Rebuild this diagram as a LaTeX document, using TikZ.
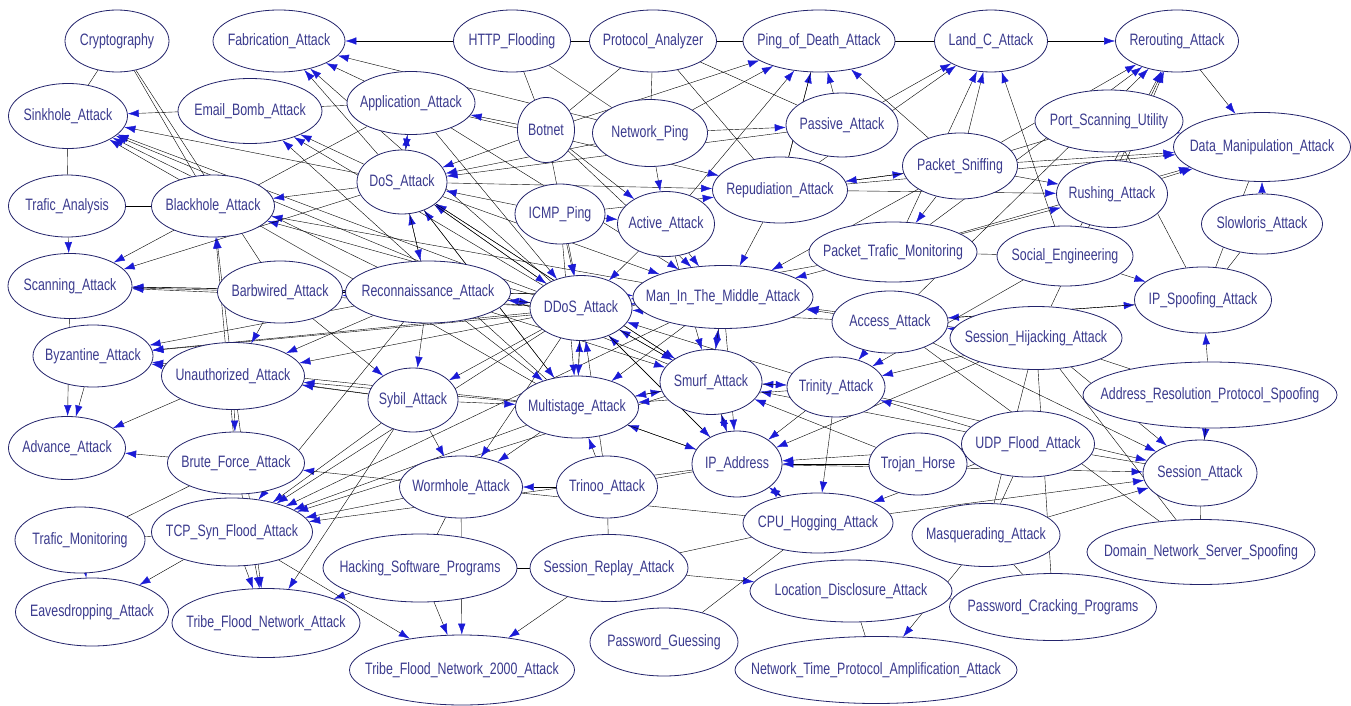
\documentclass[tikz,border=0pt]{standalone}
\usepackage{fontspec}
\usetikzlibrary{shapes.geometric,arrows.meta,backgrounds}
\newfontfamily\lblfont{Liberation Sans}[FakeStretch=0.75]
\definecolor{nodeline}{HTML}{23236B}
\definecolor{lbltext}{HTML}{3B3B8E}
\definecolor{edgeline}{HTML}{12126E}
\definecolor{tipblue}{HTML}{1A1AD6}
\newcommand\lbl[1]{\makebox[0pt]{#1}}

\begin{document}
\begin{tikzpicture}[x=1pt, y=-1pt,
      att/.style={ellipse, draw=nodeline, line width=0.8pt, fill=white,
                  inner sep=0pt, text=lbltext, font=\lblfont\fontsize{16.5}{17}\selectfont},
      >={Latex[length=11pt, width=7.5pt, color=tipblue]}]
    \useasboundingbox (0,0) rectangle (1351,706);
    \node[att, minimum width=104, minimum height=62] (crypt)   at (117,41)  {\lbl{Cryptography}};
    \node[att, minimum width=132, minimum height=62] (fab)     at (279,41)  {\lbl{Fabrication\_Attack}};
    \node[att, minimum width=117, minimum height=62] (http)    at (512,41)  {\lbl{HTTP\_Flooding}};
    \node[att, minimum width=127, minimum height=62] (proto)   at (653,41)  {\lbl{Protocol\_Analyzer}};
    \node[att, minimum width=152, minimum height=62] (pod)     at (819,41)  {\lbl{Ping\_of\_Death\_Attack}};
    \node[att, minimum width=113, minimum height=62] (land)    at (991,41)  {\lbl{Land\_C\_Attack}};
    \node[att, minimum width=123, minimum height=62] (rerout)  at (1177,41) {\lbl{Rerouting\_Attack}};
    \node[att, minimum width=119, minimum height=65] (sink)    at (68,116)  {\lbl{Sinkhole\_Attack}};
    \node[att, minimum width=144, minimum height=65] (email)   at (250,111) {\lbl{Email\_Bomb\_Attack}};
    \node[att, minimum width=128, minimum height=63] (app)     at (411,103) {\lbl{Application\_Attack}};
    \node[att, minimum width=57,  minimum height=65] (botnet)  at (546,130) {\lbl{Botnet}};
    \node[att, minimum width=115, minimum height=67] (nping)   at (650,133) {\lbl{Network\_Ping}};
    \node[att, minimum width=112, minimum height=64] (passive) at (842,125) {\lbl{Passive\_Attack}};
    \node[att, minimum width=148, minimum height=62] (portscan) at (1109,121) {\lbl{Port\_Scanning\_Utility}};
    \node[att, minimum width=177, minimum height=69] (dataman) at (1262,147) {\lbl{Data\_Manipulation\_Attack}};
    \node[att, minimum width=117, minimum height=62] (tana)    at (67,206)  {\lbl{Trafic\_Analysis}};
    \node[att, minimum width=123, minimum height=62] (black)   at (213,206) {\lbl{Blackhole\_Attack}};
    \node[att, minimum width=90,  minimum height=64] (dos)     at (402,182) {\lbl{DoS\_Attack}};
    \node[att, minimum width=90,  minimum height=60] (icmp)    at (560,214) {\lbl{ICMP\_Ping}};
    \node[att, minimum width=97,  minimum height=65] (active)  at (666,224) {\lbl{Active\_Attack}};
    \node[att, minimum width=135, minimum height=66] (repud)   at (780,190) {\lbl{Repudiation\_Attack}};
    \node[att, minimum width=115, minimum height=66] (sniff)   at (960,166) {\lbl{Packet\_Sniffing}};
    \node[att, minimum width=111, minimum height=67] (rush)    at (1112,194) {\lbl{Rushing\_Attack}};
    \node[att, minimum width=121, minimum height=60] (slow)    at (1262,224) {\lbl{Slowloris\_Attack}};
    \node[att, minimum width=168, minimum height=60] (ptm)     at (893,252) {\lbl{Packet\_Trafic\_Monitoring}};
    \node[att, minimum width=136, minimum height=60] (social)  at (1065,256) {\lbl{Social\_Engineering}};
    \node[att, minimum width=124, minimum height=65] (scan)    at (70,286)  {\lbl{Scanning\_Attack}};
    \node[att, minimum width=125, minimum height=62] (barb)    at (280,292) {\lbl{Barbwired\_Attack}};
    \node[att, minimum width=165, minimum height=62] (recon)   at (428,292) {\lbl{Reconnaissance\_Attack}};
    \node[att, minimum width=102, minimum height=65] (ddos)    at (581,308) {\lbl{DDoS\_Attack}};
    \node[att, minimum width=180, minimum height=63] (mitm)    at (723,297) {\lbl{Man\_In\_The\_Middle\_Attack}};
    \node[att, minimum width=116, minimum height=62] (access)  at (890,322) {\lbl{Access\_Attack}};
    \node[att, minimum width=137, minimum height=66] (ipspoof) at (1203,300) {\lbl{IP\_Spoofing\_Attack}};
    \node[att, minimum width=120, minimum height=62] (byz)     at (93,356)  {\lbl{Byzantine\_Attack}};
    \node[att, minimum width=143, minimum height=67] (unauth)  at (233,376) {\lbl{Unauthorized\_Attack}};
    \node[att, minimum width=90,  minimum height=64] (sybil)   at (413,400) {\lbl{Sybil\_Attack}};
    \node[att, minimum width=123, minimum height=62] (multi)   at (577,407) {\lbl{Multistage\_Attack}};
    \node[att, minimum width=102, minimum height=65] (smurf)   at (711,382) {\lbl{Smurf\_Attack}};
    \node[att, minimum width=98,  minimum height=60] (trinity) at (836,387) {\lbl{Trinity\_Attack}};
    \node[att, minimum width=172, minimum height=63] (hijack)  at (1036,338) {\lbl{Session\_Hijacking\_Attack}};
    \node[att, minimum width=254, minimum height=66] (arp)     at (1210,395) {\lbl{Address\_Resolution\_Protocol\_Spoofing}};
    \node[att, minimum width=117, minimum height=63] (adv)     at (67,448)  {\lbl{Advance\_Attack}};
    \node[att, minimum width=137, minimum height=62] (brute)   at (236,463) {\lbl{Brute\_Force\_Attack}};
    \node[att, minimum width=123, minimum height=62] (worm)    at (461,487) {\lbl{Wormhole\_Attack}};
    \node[att, minimum width=101, minimum height=62] (trinoo)  at (607,487) {\lbl{Trinoo\_Attack}};
    \node[att, minimum width=90,  minimum height=66] (ipaddr)  at (737,464) {\lbl{IP\_Address}};
    \node[att, minimum width=98,  minimum height=62] (trojan)  at (918,464) {\lbl{Trojan\_Horse}};
    \node[att, minimum width=133, minimum height=66] (udp)     at (1028,444) {\lbl{UDP\_Flood\_Attack}};
    \node[att, minimum width=114, minimum height=66] (session) at (1200,473) {\lbl{Session\_Attack}};
    \node[att, minimum width=130, minimum height=66] (tmon)    at (80,540)  {\lbl{Trafic\_Monitoring}};
    \node[att, minimum width=161, minimum height=68] (tcpsyn)  at (232,532) {\lbl{TCP\_Syn\_Flood\_Attack}};
    \node[att, minimum width=194, minimum height=68] (hack)    at (420,568) {\lbl{Hacking\_Software\_Programs}};
    \node[att, minimum width=158, minimum height=67] (replay)  at (609,568) {\lbl{Session\_Replay\_Attack}};
    \node[att, minimum width=150, minimum height=60] (cpu)     at (818,523) {\lbl{CPU\_Hogging\_Attack}};
    \node[att, minimum width=148, minimum height=63] (masq)    at (986,535) {\lbl{Masquerading\_Attack}};
    \node[att, minimum width=228, minimum height=65] (dns)     at (1201,552) {\lbl{Domain\_Network\_Server\_Spoofing}};
    \node[att, minimum width=202, minimum height=62] (locdis)  at (851,591) {\lbl{Location\_Disclosure\_Attack}};
    \node[att, minimum width=153, minimum height=68] (eaves)   at (92,612)  {\lbl{Eavesdropping\_Attack}};
    \node[att, minimum width=188, minimum height=69] (tfn)     at (266,623) {\lbl{Tribe\_Flood\_Network\_Attack}};
    \node[att, minimum width=207, minimum height=67] (pwcrack) at (1053,607) {\lbl{Password\_Cracking\_Programs}};
    \node[att, minimum width=225, minimum height=70] (tfn2k)   at (462,670) {\lbl{Tribe\_Flood\_Network\_2000\_Attack}};
    \node[att, minimum width=148, minimum height=68] (pwguess) at (664,642) {\lbl{Password\_Guessing}};
    \node[att, minimum width=282, minimum height=67] (ntp)     at (876,670) {\lbl{Network\_Time\_Protocol\_Amplification\_Attack}};

    \begin{scope}[on background layer, color=edgeline, line width=0.9pt]
    \draw[->] (http) -- (fab);     \draw[->] (app) -- (fab);      \draw[->] (dos) -- (fab);
    \draw[->] (ddos) -- (fab);     \draw[->] (nping) -- (fab);
    \draw[->] (dos) -- (email);    \draw[->] (ddos) -- (email);   \draw[->] (multi) -- (email);
    \draw[->] (app) -- (sink);     \draw[->] (dos) -- (sink);     \draw[->] (ddos) -- (sink);
    \draw[->] (multi) -- (sink);   \draw[->] (smurf) -- (sink);   \draw[->] (recon) -- (sink);
    \draw (crypt) -- (sink);       \draw (crypt) -- (black);      \draw (crypt) -- (barb);
    \draw (sink) -- (tana);        \draw (tana) -- (black);       \draw[->] (tana) -- (scan);
    \draw[->] (dos) -- (black);    \draw[->] (ddos) -- (black);   \draw[->] (mitm) -- (black);
    \draw[->] (unauth) -- (black); \draw[->] (brute) -- (black);
    \draw[->] (dos) -- (scan);     \draw[->] (recon) -- (scan);   \draw[->] (ddos) -- (scan);
    \draw[->] (mitm) -- (scan);    \draw[->] (app) -- (scan);     \draw (scan) -- (barb);
    \draw[->] (recon) -- (byz);    \draw[->] (ddos) -- (byz);     \draw[->] (multi) -- (byz);
    \draw[->] (mitm) -- (byz);     \draw[->] (sybil) -- (byz);
    \draw[->] (byz) -- (adv);      \draw[->] (scan) -- (adv);     \draw[->] (unauth) -- (adv);
    \draw[->] (brute) -- (adv);
    \draw[->] (barb) -- (unauth);  \draw[->] (recon) -- (unauth); \draw[->] (ddos) -- (unauth);
    \draw[->] (multi) -- (unauth); \draw[->] (sybil) -- (unauth);
    \draw[->] (unauth) -- (brute); \draw[->] (worm) -- (brute);
    \draw[->] (multi) -- (tcpsyn); \draw[->] (ddos) -- (tcpsyn);  \draw[->] (smurf) -- (tcpsyn);
    \draw[->] (ipaddr) -- (tcpsyn); \draw[->] (worm) -- (tcpsyn); \draw[->] (recon) -- (tcpsyn);
    \draw[->] (sybil) -- (tcpsyn); \draw[->] (mitm) -- (tcpsyn);
    \draw[->] (tcpsyn) -- (eaves); \draw[->] (tmon) -- (eaves);
    \draw[->] (tcpsyn) -- (tfn);   \draw[->] (brute) -- (tfn);    \draw[->] (unauth) -- (tfn);
    \draw[->] (hack) -- (tfn);     \draw[->] (tcpsyn) -- (tfn2k); \draw[->] (hack) -- (tfn2k);
    \draw[->] (replay) -- (tfn2k); \draw[->] (worm) -- (tfn2k);   \draw[->] (sybil) -- (tfn);
    \draw (tmon) -- (tcpsyn);      \draw (tmon) -- (brute);
    \draw[->] (trinoo) -- (worm);  \draw[->] (multi) -- (worm);   \draw[->] (sybil) -- (worm);
    \draw[->] (ddos) -- (worm);
    \draw[->] (replay) -- (locdis); \draw[->] (masq) -- (ntp);
    \draw[->] (udp) -- (cpu);      \draw[->] (ipaddr) -- (cpu);   \draw[->] (trinity) -- (cpu);
    \draw[->] (arp) -- (session);  \draw[->] (ipaddr) -- (session); \draw[->] (trinity) -- (session);
    \draw[->] (access) -- (session); \draw[->] (cpu) -- (session); \draw[->] (masq) -- (session);
    \draw[->] (hijack) -- (session);
    \draw (dns) -- (session);      \draw (dns) -- (hijack);       \draw (dns) -- (access);
    \draw[->] (arp) -- (ipspoof);  \draw[->] (social) -- (ipspoof); \draw[->] (access) -- (ipspoof);
    \draw[->] (ipspoof) -- (access);
    \draw[->] (sniff) -- (dataman); \draw[->] (portscan) -- (dataman); \draw[->] (rush) -- (dataman);
    \draw[->] (slow) -- (dataman); \draw[->] (rerout) -- (dataman); \draw[->] (repud) -- (dataman);
    \draw[->] (ptm) -- (dataman);
    \draw[->] (sniff) -- (rush);   \draw[->] (ptm) -- (rush);     \draw[->] (repud) -- (rush);
    \draw[->] (land) -- (rerout);  \draw[->] (sniff) -- (rerout); \draw[->] (ptm) -- (rerout);
    \draw[->] (social) -- (rerout); \draw[->] (rush) -- (rerout); \draw[->] (hijack) -- (rerout);
    \draw[->] (access) -- (rerout);
    \draw (pod) -- (land);         \draw[->] (sniff) -- (land);   \draw[->] (passive) -- (land);
    \draw[->] (ptm) -- (land);     \draw[->] (repud) -- (land);   \draw[->] (social) -- (land);
    \draw[->] (passive) -- (pod);  \draw[->] (active) -- (pod);   \draw[->] (nping) -- (pod);
    \draw[->] (repud) -- (pod);    \draw[->] (sniff) -- (pod);    \draw[->] (botnet) -- (pod);
    \draw (proto) -- (pod);        \draw (proto) -- (http);
    \draw[->] (nping) -- (passive);
    \draw[->] (repud) -- (sniff);  \draw[->] (sniff) -- (repud);
    \draw[->] (dos) -- (repud);    \draw[->] (icmp) -- (repud);   \draw[->] (app) -- (repud);
    \draw[->] (app) -- (dos);      \draw[->] (botnet) -- (dos);   \draw[->] (nping) -- (dos);
    \draw[->] (icmp) -- (dos);     \draw[->] (ddos) -- (dos);     \draw[->] (multi) -- (dos);
    \draw[->] (smurf) -- (dos);    \draw[->] (recon) -- (dos);    \draw[->] (passive) -- (dos);
    \draw[->] (recon) -- (ddos);   \draw[->] (dos) -- (ddos);     \draw[->] (mitm) -- (ddos);
    \draw[->] (smurf) -- (ddos);   \draw[->] (multi) -- (ddos);   \draw[->] (active) -- (ddos);
    \draw[->] (icmp) -- (ddos);    \draw[->] (ipaddr) -- (ddos);  \draw[->] (trinoo) -- (ddos);
    \draw[->] (trinity) -- (ddos); \draw[->] (access) -- (ddos);  \draw[->] (ptm) -- (ddos);
    \draw[->] (app) -- (ddos);     \draw[->] (botnet) -- (ddos);
    \draw[->] (ddos) -- (mitm);    \draw[->] (access) -- (mitm);  \draw[->] (ptm) -- (mitm);
    \draw[->] (sniff) -- (mitm);   \draw[->] (smurf) -- (mitm);   \draw[->] (repud) -- (mitm);
    \draw[->] (active) -- (mitm);  \draw[->] (hijack) -- (mitm);  \draw[->] (dos) -- (mitm);
    \draw[->] (app) -- (mitm);     \draw[->] (botnet) -- (mitm);  \draw[->] (recon) -- (mitm);
    \draw[->] (multi) -- (smurf);  \draw[->] (ddos) -- (smurf);   \draw[->] (mitm) -- (smurf);
    \draw[->] (trinity) -- (smurf); \draw[->] (ipaddr) -- (smurf); \draw[->] (trojan) -- (smurf);
    \draw[->] (udp) -- (smurf);    \draw[->] (dos) -- (smurf);    \draw[->] (recon) -- (smurf);
    \draw[->] (active) -- (smurf);
    \draw[->] (ddos) -- (multi);   \draw[->] (recon) -- (multi);  \draw[->] (mitm) -- (multi);
    \draw[->] (smurf) -- (multi);  \draw[->] (sybil) -- (multi);  \draw[->] (ipaddr) -- (multi);
    \draw[->] (trinoo) -- (multi); \draw[->] (trinity) -- (multi); \draw[->] (dos) -- (multi);
    \draw[->] (icmp) -- (multi);
    \draw[->] (smurf) -- (ipaddr); \draw[->] (multi) -- (ipaddr); \draw[->] (mitm) -- (ipaddr);
    \draw[->] (trinity) -- (ipaddr); \draw[->] (trojan) -- (ipaddr); \draw[->] (udp) -- (ipaddr);
    \draw[->] (cpu) -- (ipaddr);   \draw[->] (hijack) -- (ipaddr); \draw[->] (ddos) -- (ipaddr);
    \draw[->] (access) -- (trinity); \draw[->] (hijack) -- (trinity); \draw[->] (smurf) -- (trinity);
    \draw[->] (udp) -- (trinity);  \draw[->] (social) -- (trinity);
    \draw[->] (recon) -- (sybil);  \draw[->] (ddos) -- (sybil);   \draw[->] (barb) -- (sybil);
    \draw[->] (ddos) -- (recon);   \draw[->] (dos) -- (recon);
    \draw[->] (recon) -- (barb);   \draw[->] (ddos) -- (barb);
    \draw[->] (nping) -- (active); \draw[->] (botnet) -- (active); \draw[->] (icmp) -- (active);
    \draw[->] (botnet) -- (app);   \draw[->] (dos) -- (app);
    \draw[->] (hijack) -- (access); \draw[->] (sniff) -- (ptm);
    \draw (barb) -- (recon);       \draw (replay) -- (hack);      \draw (hack) -- (worm);
    \draw (trinoo) -- (ipaddr);    \draw (trojan) -- (udp);       \draw (udp) -- (session);
    \draw (arp) -- (session);      \draw (pwguess) -- (cpu);      \draw (pwcrack) -- (masq);
    \draw (pwcrack) -- (locdis);   \draw (locdis) -- (ntp);       \draw (social) -- (ptm);
    \draw (hijack) -- (arp);       \draw (http) -- (botnet);      \draw (http) -- (nping);
    \draw (proto) -- (botnet);     \draw (proto) -- (nping);      \draw (proto) -- (passive);
    \draw (proto) -- (repud);      \draw (pod) -- (repud);        \draw (portscan) -- (sniff);
    \draw (portscan) -- (ipspoof); \draw (slow) -- (ipspoof);     \draw (dataman) -- (ipspoof);
    \draw (cpu) -- (replay);       \draw (masq) -- (udp);         \draw (masq) -- (hijack);
    \draw (pwcrack) -- (hijack);   \draw (trinoo) -- (replay);    \draw (worm) -- (cpu);
    \end{scope}
  \end{tikzpicture}
\end{document}
